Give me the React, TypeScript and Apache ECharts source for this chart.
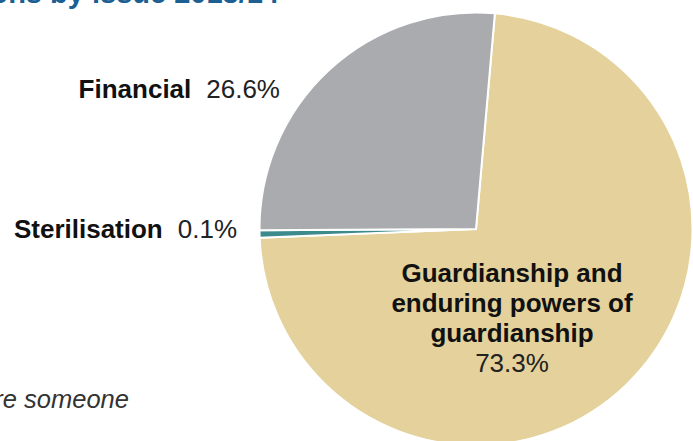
import React, { useEffect, useRef } from "react";
import * as echarts from "echarts";

const categories = [
  "Guardianship and\nenduring powers of\nguardianship",
  "Sterilisation",
  "Financial",
];
const values = [73.3, 0.1, 26.6];
const colors = ["#E4D19B", "#3D8A8D", "#AAABAF"];

// label anchor points (layout only)
const labelPos = [
  { x: 512, y: 318, align: "center", verticalAlign: "middle" },
  { x: 237, y: 229, align: "right", verticalAlign: "middle" },
  { x: 280, y: 89, align: "right", verticalAlign: "middle" },
];

const FONT = "'Liberation Sans', Arial, Helvetica, sans-serif";

export default function App() {
  const ref = useRef<HTMLDivElement>(null);
  useEffect(() => {
    document.body.style.margin = "0";
    const chart = echarts.init(ref.current!, undefined, { renderer: "svg" });
    chart.setOption({
      animation: false,
      backgroundColor: "#ffffff",
      graphic: [
        {
          type: "text",
          x: 279,
          y: 7,
          style: {
            text: "Applications by issue 2013/14",
            font: `bold 29px ${FONT}`,
            fill: "#1c5f93",
            align: "right",
            verticalAlign: "bottom",
          },
        },
        {
          type: "text",
          x: 129,
          y: 412,
          style: {
            text: "where someone",
            font: `italic 25.5px ${FONT}`,
            fill: "#333333",
            align: "right",
            verticalAlign: "bottom",
          },
        },
        {
          type: "text",
          x: -2,
          y: 436,
          style: {
            text: "t.",
            font: `italic 25.5px ${FONT}`,
            fill: "#333333",
            align: "left",
            verticalAlign: "top",
          },
        },
      ],
      series: [
        {
          type: "pie",
          center: [476, 229],
          radius: 216.5,
          startAngle: 85,
          clockwise: true,
          minAngle: 2,
          avoidLabelOverlap: false,
          labelLine: { show: false },
          itemStyle: { borderColor: "#ffffff", borderWidth: 2 },
          label: {
            show: true,
            position: "outside",
            fontFamily: FONT,
            color: "#111111",
            formatter: (p: any) =>
              p.dataIndex === 0
                ? `{b|${p.name}}\n{v|${p.value}%}`
                : `{b|${p.name}}{v2|${p.value}%}`,
            rich: {
              b: {
                fontFamily: FONT,
                fontWeight: "bold",
                fontSize: 26,
                lineHeight: 30,
                color: "#111111",
                align: "center",
              },
              v: {
                fontFamily: FONT,
                fontWeight: "normal",
                fontSize: 26,
                lineHeight: 30,
                color: "#222222",
                align: "center",
              },
              v2: {
                fontFamily: FONT,
                fontWeight: "normal",
                fontSize: 26,
                lineHeight: 30,
                color: "#222222",
                padding: [0, 0, 0, 15],
              },
            },
          },
          labelLayout: (params: any) => labelPos[params.dataIndex],
          data: categories.map((name, i) => ({
            name,
            value: values[i],
            itemStyle: { color: colors[i] },
          })),
        },
      ],
    });
    return () => chart.dispose();
  }, []);
  return <div ref={ref} style={{ width: 693, height: 441 }} />;
}
